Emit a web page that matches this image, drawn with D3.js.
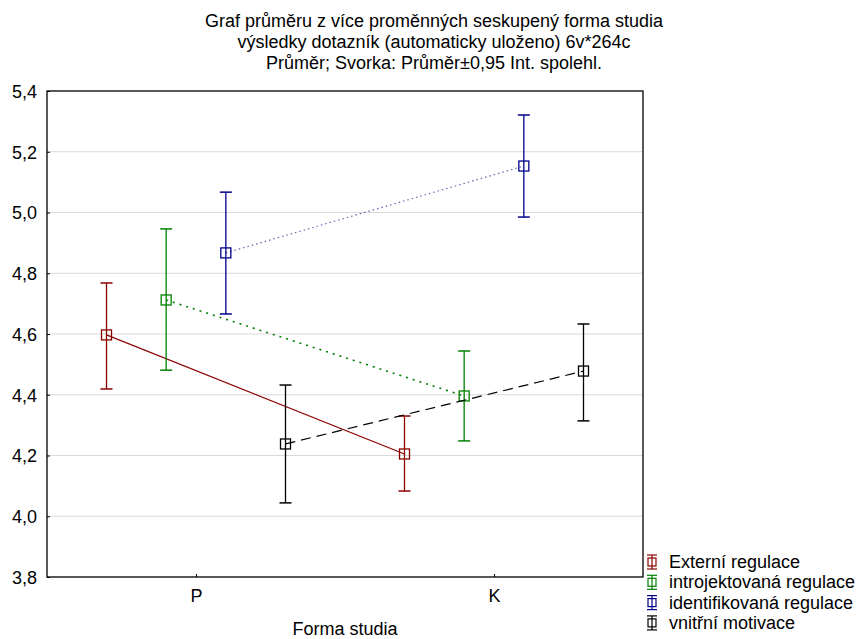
<!DOCTYPE html>
<html>
<head>
<meta charset="utf-8">
<script src="https://cdn.jsdelivr.net/npm/d3@7"></script>
<style>
  body { margin: 0; background: #fff; }
  text { font-family: Arial, "Liberation Sans", sans-serif; fill: #000; }
</style>
</head>
<body>
<svg width="860" height="639"></svg>
<script>
var svg = d3.select('svg');

// data
var groups = ['P', 'K'];
var seriesNames = ['Externí regulace', 'introjektovaná regulace', 'identifikovaná regulace', 'vnitřní motivace'];
var means = [
    [4.597, 4.205],
    [4.712, 4.396],
    [4.867, 5.153],
    [4.238, 4.478]
];
var upper = [
    [4.768, 4.330],
    [4.946, 4.544],
    [5.067, 5.321],
    [4.432, 4.633]
];
var lower = [
    [4.419, 4.083],
    [4.481, 4.248],
    [4.666, 4.985],
    [4.044, 4.314]
];
var yTicks = [3.8, 4.0, 4.2, 4.4, 4.6, 4.8, 5.0, 5.2, 5.4];
var titleLines = [
    'Graf průměru z více proměnných seskupený forma studia',
    'výsledky dotazník (automaticky uloženo) 6v*264c',
    'Průměr; Svorka: Průměr±0,95 Int. spolehl.'
];

var colors = ['#8b0000', '#008000', '#00008b', '#000000'];
var dashes = [null, '2,5', '1.5,3', '10,6'];
var lineOpacity = [1, 1, 0.6, 1];

// plot box (pTop, not "top" - that one is window.top)
var pLeft = 47, pRight = 643, pTop = 91, pBottom = 577;

var x = d3.scalePoint().domain(groups).range([pLeft, pRight]).padding(0.5);
var offset = d3.scalePoint().domain(d3.range(4)).range([-89.5, 89.5]);
var y = d3.scaleLinear().domain([3.8, 5.4]).range([pBottom, pTop]);

// grid
svg.append('g').selectAll('line')
    .data(yTicks.slice(1, -1))
    .enter()
    .append('line')
    .attr('x1', pLeft).attr('x2', pRight)
    .attr('y1', function (d) { return y(d); })
    .attr('y2', function (d) { return y(d); })
    .attr('stroke', '#d9d9d9')
    .attr('stroke-width', 1);

// axes
var yAxis = d3.axisLeft(y).tickValues(yTicks).tickSize(-3).tickPadding(10)
    .tickFormat(function (d) { return d3.format('.1f')(d).replace('.', ','); });
var gy = svg.append('g').attr('transform', 'translate(' + pLeft + ',0)').call(yAxis);
gy.select('.domain').remove();
gy.selectAll('text').attr('font-size', 18).attr('dy', '0.35em');
gy.selectAll('line').attr('stroke', '#000');

var xAxis = d3.axisBottom(x).tickSize(-3).tickPadding(12);
var gx = svg.append('g').attr('transform', 'translate(0,' + pBottom + ')').call(xAxis);
gx.select('.domain').remove();
gx.selectAll('text').attr('font-size', 18);
gx.selectAll('line').attr('stroke', '#000');

svg.append('rect')
    .attr('x', pLeft).attr('y', pTop)
    .attr('width', pRight - pLeft).attr('height', pBottom - pTop)
    .attr('fill', 'none').attr('stroke', '#000').attr('stroke-width', 1.3);

// series
seriesNames.forEach(function (name, s) {
    var pts = groups.map(function (g, i) {
        return { x: x(g) + offset(s), m: means[s][i], hi: upper[s][i], lo: lower[s][i] };
    });
    var g = svg.append('g');

    g.append('path')
        .datum(pts)
        .attr('d', d3.line().x(function (d) { return d.x; }).y(function (d) { return y(d.m); }))
        .attr('fill', 'none')
        .attr('stroke', colors[s])
        .attr('stroke-width', s === 1 ? 1.6 : 1.2)
        .attr('stroke-opacity', lineOpacity[s])
        .attr('stroke-dasharray', dashes[s]);

    var bars = g.selectAll('g.bar').data(pts).enter().append('g');
    bars.append('line')
        .attr('x1', function (d) { return d.x; }).attr('x2', function (d) { return d.x; })
        .attr('y1', function (d) { return y(d.hi); }).attr('y2', function (d) { return y(d.lo); })
        .attr('stroke', colors[s]).attr('stroke-width', 1.3);
    bars.selectAll('line.cap')
        .data(function (d) { return [{ x: d.x, v: d.hi }, { x: d.x, v: d.lo }]; })
        .enter()
        .append('line')
        .attr('x1', function (d) { return d.x - 6; }).attr('x2', function (d) { return d.x + 6; })
        .attr('y1', function (d) { return y(d.v); }).attr('y2', function (d) { return y(d.v); })
        .attr('stroke', colors[s]).attr('stroke-width', 1.5);
    bars.append('rect')
        .attr('x', function (d) { return d.x - 5; })
        .attr('y', function (d) { return y(d.m) - 5; })
        .attr('width', 10).attr('height', 10)
        .attr('fill', 'none')
        .attr('stroke', colors[s]).attr('stroke-width', 1.3);
});

// titles
svg.append('g').selectAll('text')
    .data(titleLines)
    .enter()
    .append('text')
    .attr('x', 434)
    .attr('y', function (d, i) { return 27 + i * 21; })
    .attr('text-anchor', 'middle')
    .attr('font-size', 18)
    .text(function (d) { return d; });

svg.append('text')
    .attr('x', (pLeft + pRight) / 2)
    .attr('y', 635)
    .attr('text-anchor', 'middle')
    .attr('font-size', 18)
    .text('Forma studia');

// legend
var legend = svg.append('g').selectAll('g')
    .data(seriesNames)
    .enter()
    .append('g')
    .attr('transform', function (d, i) { return 'translate(652,' + (562 + i * 20.3) + ')'; });
legend.append('line')
    .attr('x1', 0).attr('x2', 0).attr('y1', -7).attr('y2', 7)
    .attr('stroke', function (d, i) { return colors[i]; }).attr('stroke-width', 1.2);
legend.append('line')
    .attr('x1', -5).attr('x2', 5).attr('y1', -7).attr('y2', -7)
    .attr('stroke', function (d, i) { return colors[i]; }).attr('stroke-width', 1.2);
legend.append('line')
    .attr('x1', -5).attr('x2', 5).attr('y1', 7).attr('y2', 7)
    .attr('stroke', function (d, i) { return colors[i]; }).attr('stroke-width', 1.2);
legend.append('rect')
    .attr('x', -4).attr('y', -4).attr('width', 8).attr('height', 8)
    .attr('fill', 'none')
    .attr('stroke', function (d, i) { return colors[i]; }).attr('stroke-width', 1.2);
legend.append('text')
    .attr('x', 17).attr('y', 6)
    .attr('font-size', 18)
    .text(function (d) { return d; });
</script>
</body>
</html>
